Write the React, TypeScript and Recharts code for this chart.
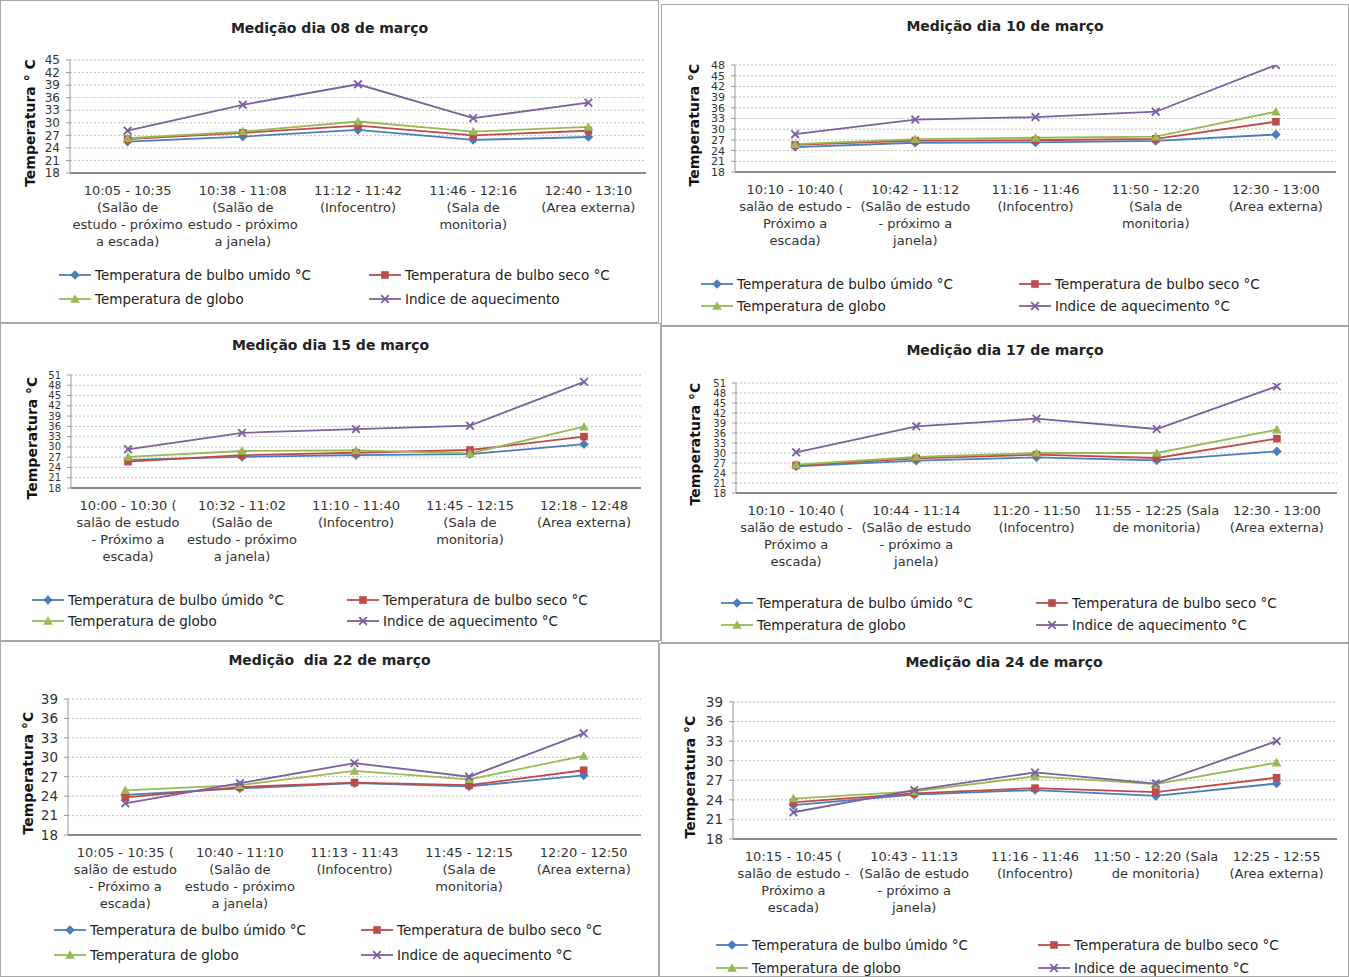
import React from 'react';
import { LineChart, Line, XAxis, YAxis, CartesianGrid } from 'recharts';

const FONT = '"DejaVu Sans", Verdana, sans-serif';

// ---- data ----
const cats08 = [
  '10:05 - 10:35\n(Salão de\nestudo - próximo\na escada)',
  '10:38 - 11:08\n(Salão de\nestudo - próximo\na janela)',
  '11:12 - 11:42\n(Infocentro)',
  '11:46 - 12:16\n(Sala de\nmonitoria)',
  '12:40 - 13:10\n(Area externa)',
];
const umido08 = [25.5, 26.7, 28.3, 25.9, 26.6];
const seco08 = [26.1, 27.6, 29.3, 27.0, 28.1];
const globo08 = [26.3, 27.9, 30.3, 27.9, 29.0];
const indice08 = [28.1, 34.3, 39.2, 31.1, 34.8];

const cats10 = [
  '10:10 - 10:40 (\nsalão de estudo -\nPróximo a\nescada)',
  '10:42 - 11:12\n(Salão de estudo\n- próximo a\njanela)',
  '11:16 - 11:46\n(Infocentro)',
  '11:50 - 12:20\n(Sala de\nmonitoria)',
  '12:30 - 13:00\n(Area externa)',
];
const umido10 = [25.0, 26.2, 26.3, 26.7, 28.5];
const seco10 = [25.6, 26.8, 26.9, 27.3, 32.1];
const globo10 = [25.8, 27.2, 27.6, 27.9, 34.9];
const indice10 = [28.6, 32.7, 33.4, 34.9, 48.0];

const cats15 = [
  '10:00 - 10:30 (\nsalão de estudo\n- Próximo a\nescada)',
  '10:32 - 11:02\n(Salão de\nestudo - próximo\na janela)',
  '11:10 - 11:40\n(Infocentro)',
  '11:45 - 12:15\n(Sala de\nmonitoria)',
  '12:18 - 12:48\n(Area externa)',
];
const umido15 = [26.2, 27.1, 27.6, 27.9, 30.8];
const seco15 = [25.7, 27.6, 28.3, 29.1, 33.0];
const globo15 = [27.1, 28.8, 29.0, 28.1, 35.9];
const indice15 = [29.3, 34.1, 35.2, 36.2, 49.0];

const cats17 = [
  '10:10 - 10:40 (\nsalão de estudo -\nPróximo a\nescada)',
  '10:44 - 11:14\n(Salão de estudo\n- próximo a\njanela)',
  '11:20 - 11:50\n(Infocentro)',
  '11:55 - 12:25 (Sala\nde monitoria)',
  '12:30 - 13:00\n(Area externa)',
];
const umido17 = [26.0, 27.7, 28.7, 27.8, 30.5];
const seco17 = [26.3, 28.4, 29.5, 28.5, 34.3];
const globo17 = [26.5, 28.8, 30.0, 30.0, 37.0];
const indice17 = [30.2, 38.0, 40.3, 37.2, 50.0];

const cats22 = [
  '10:05 - 10:35 (\nsalão de estudo\n- Próximo a\nescada)',
  '10:40 - 11:10\n(Salão de\nestudo - próximo\na janela)',
  '11:13 - 11:43\n(Infocentro)',
  '11:45 - 12:15\n(Sala de\nmonitoria)',
  '12:20 - 12:50\n(Area externa)',
];
const umido22 = [24.2, 25.2, 26.0, 25.5, 27.2];
const seco22 = [23.8, 25.4, 26.1, 25.7, 28.0];
const globo22 = [24.9, 25.7, 27.9, 26.6, 30.2];
const indice22 = [22.9, 26.0, 29.1, 27.0, 33.7];

const cats24 = [
  '10:15 - 10:45 (\nsalão de estudo -\nPróximo a\nescada)',
  '10:43 - 11:13\n(Salão de estudo\n- próximo a\njanela)',
  '11:16 - 11:46\n(Infocentro)',
  '11:50 - 12:20 (Sala\nde monitoria)',
  '12:25 - 12:55\n(Area externa)',
];
const umido24 = [23.2, 24.8, 25.5, 24.6, 26.5];
const seco24 = [23.6, 25.0, 25.8, 25.2, 27.4];
const globo24 = [24.2, 25.3, 27.6, 26.4, 29.7];
const indice24 = [22.1, 25.5, 28.2, 26.5, 33.0];

const ticks39 = [18, 21, 24, 27, 30, 33, 36, 39];
const ticks45 = [18, 21, 24, 27, 30, 33, 36, 39, 42, 45];
const ticks48 = [18, 21, 24, 27, 30, 33, 36, 39, 42, 45, 48];
const ticks51 = [18, 21, 24, 27, 30, 33, 36, 39, 42, 45, 48, 51];

const legend08 = ['Temperatura de bulbo umido °C', 'Temperatura de bulbo seco °C', 'Temperatura de globo', 'Indice de aquecimento'];
const legendStd = ['Temperatura de bulbo úmido °C', 'Temperatura de bulbo seco °C', 'Temperatura de globo', 'Indice de aquecimento °C'];

const SERIES = [
  { key: 'umido', color: '#4A7EBB', shape: 'diamond' },
  { key: 'seco', color: '#BE4B48', shape: 'square' },
  { key: 'globo', color: '#98B954', shape: 'triangle' },
  { key: 'indice', color: '#7D60A0', shape: 'x' },
];

const buildRows = (cats: string[], u: number[], s: number[], g: number[], ix: number[]) =>
  cats.map((cat, i) => ({ cat, umido: u[i], seco: s[i], globo: g[i], indice: ix[i] }));

// ---- layout ----
const PANELS = [
  {
    title: 'Medição dia 08 de março', yLabel: 'Temperatura ° C', legend: legend08, ticks: ticks45, tickFont: 12,
    rows: buildRows(cats08, umido08, seco08, globo08, indice08),
    box: { x: 0, y: 0, w: 659, h: 323 }, plot: { l: 70, r: 646, t: 60, b: 173 },
    titleY: 30, yLabelX: 30, legendY: [275, 299], legendX: [95, 405],
  },
  {
    title: 'Medição dia 10 de março', yLabel: 'Temperatura °C', legend: legendStd, ticks: ticks48, tickFont: 11,
    rows: buildRows(cats10, umido10, seco10, globo10, indice10),
    box: { x: 661, y: 4, w: 688, h: 322 }, plot: { l: 735, r: 1336, t: 65, b: 172 },
    titleY: 28, yLabelX: 694, legendY: [284, 306], legendX: [737, 1055],
  },
  {
    title: 'Medição dia 15 de março', yLabel: 'Temperatura °C', legend: legendStd, ticks: ticks51, tickFont: 10,
    rows: buildRows(cats15, umido15, seco15, globo15, indice15),
    box: { x: 0, y: 323, w: 661, h: 318 }, plot: { l: 71, r: 641, t: 375, b: 488 },
    titleY: 347, yLabelX: 32, legendY: [600, 621], legendX: [68, 383],
  },
  {
    title: 'Medição dia 17 de março', yLabel: 'Temperatura °C', legend: legendStd, ticks: ticks51, tickFont: 10,
    rows: buildRows(cats17, umido17, seco17, globo17, indice17),
    box: { x: 661, y: 326, w: 688, h: 317 }, plot: { l: 736, r: 1337, t: 383, b: 493 },
    titleY: 352, yLabelX: 695, legendY: [603, 625], legendX: [757, 1072],
  },
  {
    title: 'Medição  dia 22 de março', yLabel: 'Temperatura °C', legend: legendStd, ticks: ticks39, tickFont: 13.5,
    rows: buildRows(cats22, umido22, seco22, globo22, indice22),
    box: { x: 0, y: 641, w: 659, h: 336 }, plot: { l: 68, r: 641, t: 699, b: 835 },
    titleY: 662, yLabelX: 28, legendY: [930, 955], legendX: [90, 397],
  },
  {
    title: 'Medição dia 24 de março', yLabel: 'Temperatura °C', legend: legendStd, ticks: ticks39, tickFont: 13.5,
    rows: buildRows(cats24, umido24, seco24, globo24, indice24),
    box: { x: 659, y: 643, w: 690, h: 334 }, plot: { l: 733, r: 1337, t: 702, b: 839 },
    titleY: 664, yLabelX: 690, legendY: [945, 968], legendX: [752, 1074],
  },
];

const YW = 40;
const XH = 90;

function Marker({ cx, cy, shape, color }: { cx: number; cy: number; shape: string; color: string }) {
  const s = 3.8;
  if (shape === 'diamond')
    return <path d={`M${cx},${cy - s - 1}L${cx + s + 1},${cy}L${cx},${cy + s + 1}L${cx - s - 1},${cy}Z`} fill={color} />;
  if (shape === 'square') return <rect x={cx - s} y={cy - s} width={2 * s} height={2 * s} fill={color} />;
  if (shape === 'triangle')
    return <path d={`M${cx},${cy - s - 1}L${cx + s + 1},${cy + s}L${cx - s - 1},${cy + s}Z`} fill={color} />;
  return (
    <g stroke={color} strokeWidth={1.9}>
      <line x1={cx - s} y1={cy - s} x2={cx + s} y2={cy + s} />
      <line x1={cx - s} y1={cy + s} x2={cx + s} y2={cy - s} />
    </g>
  );
}

const CatTick = (props: any) => {
  const { x, y, payload } = props;
  const lines = String(payload.value).split('\n');
  return (
    <text x={x} y={y} textAnchor="middle" fontSize={13} fill="#333" fontFamily={FONT}>
      {lines.map((l, i) => (
        <tspan key={i} x={x} dy={i === 0 ? 14 : 17}>
          {l}
        </tspan>
      ))}
    </text>
  );
};

function Panel({ p }: { p: (typeof PANELS)[number] }) {
  const { box, plot } = p;
  const band = (plot.r - plot.l) / 5;
  const margin = {
    top: plot.t - box.y,
    left: plot.l - box.x - YW,
    right: box.x + box.w - plot.r,
    bottom: box.y + box.h - plot.b - XH,
  };
  const order = [0, 1, 2, 3];
  return (
    <>
      <div
        style={{
          position: 'absolute', left: box.x, top: box.y, width: box.w - 2, height: box.h - 2,
          border: '1px solid #a8a8a8',
        }}
      />
      <div style={{ position: 'absolute', left: box.x, top: box.y }}>
        <LineChart width={box.w} height={box.h} data={p.rows} margin={margin}>
          <CartesianGrid vertical={false} strokeDasharray="2 2" stroke="#bdbdbd" />
          <XAxis
            dataKey="cat"
            interval={0}
            tickLine={false}
            height={XH}
            padding={{ left: band / 2, right: band / 2 }}
            axisLine={{ stroke: '#8a8a8a', strokeWidth: 2 }}
            tick={<CatTick />}
          />
          <YAxis
            width={YW}
            domain={[p.ticks[0], p.ticks[p.ticks.length - 1]]}
            ticks={p.ticks}
            interval={0}
            allowDataOverflow
            tickSize={4}
            tickMargin={6}
            axisLine={{ stroke: '#999' }}
            tickLine={{ stroke: '#999' }}
            tick={{ fontSize: p.tickFont, fill: '#333', fontFamily: FONT }}
          />
          {SERIES.map((s) => (
            <Line
              key={s.key}
              dataKey={s.key}
              stroke={s.color}
              strokeWidth={1.8}
              isAnimationActive={false}
              dot={(d: any) => <Marker key={`${s.key}-${d.index}`} cx={d.cx} cy={d.cy} shape={s.shape} color={s.color} />}
              activeDot={false}
            />
          ))}
        </LineChart>
      </div>
      <div
        style={{
          position: 'absolute', left: box.x, width: box.w, top: p.titleY - 10, textAlign: 'center',
          fontWeight: 'bold', fontSize: 14, color: '#222', whiteSpace: 'pre', fontFamily: FONT,
        }}
      >
        {p.title}
      </div>
      <div
        style={{
          position: 'absolute', left: p.yLabelX, top: (plot.t + plot.b) / 2 + 6,
          transform: 'translate(-50%, -50%) rotate(-90deg)', whiteSpace: 'nowrap',
          fontWeight: 'bold', fontSize: 14, color: '#111', fontFamily: FONT,
        }}
      >
        {p.yLabel}
      </div>
      {order.map((i) => {
        const s = SERIES[i];
        const col = i === 0 || i === 2 ? 0 : 1;
        const row = i < 2 ? 0 : 1;
        return (
          <div
            key={s.key}
            style={{
              position: 'absolute', left: p.legendX[col] - 38, top: p.legendY[row] - 9, height: 18,
              display: 'flex', alignItems: 'center', whiteSpace: 'nowrap', fontFamily: FONT, fontSize: 13.5, color: '#222',
            }}
          >
            <svg width={36} height={12}>
              <line x1={2} y1={6} x2={34} y2={6} stroke={s.color} strokeWidth={1.8} />
              <Marker cx={18} cy={6} shape={s.shape} color={s.color} />
            </svg>
            <span style={{ marginLeft: 2 }}>{p.legend[i]}</span>
          </div>
        );
      })}
    </>
  );
}

export default function App() {
  return (
    <div style={{ position: 'absolute', left: 0, top: 0, width: 1349, height: 977, background: '#fff', overflow: 'hidden' }}>
      {PANELS.map((p, i) => (
        <Panel key={i} p={p} />
      ))}
    </div>
  );
}
